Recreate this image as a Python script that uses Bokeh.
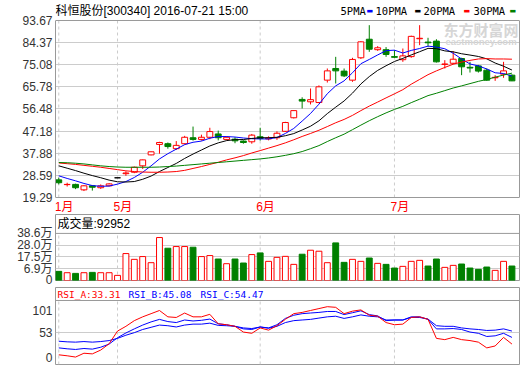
from bokeh.plotting import figure
from bokeh.layouts import column
from bokeh.models import Range1d, FixedTicker, Label, Span, ColumnDataSource, LinearAxis
from bokeh.embed import file_html
from bokeh.resources import INLINE

# ---------------- data ----------------
title_text = "科恒股份[300340] 2016-07-21 15:00"
month_labels = ["1月", "5月", "6月", "7月"]
month_starts = [0, 7, 24, 40]
price_ticks = [93.67, 84.37, 75.08, 65.78, 56.48, 47.18, 37.88, 28.59, 19.29]
vol_ticks = [6.9, 17.5, 28.0, 38.6]
vol_tick_labels = ["6.9万", "17.5万", "28.0万", "38.6万"]
rsi_ticks = [0, 53, 101]
ma_names = ["5PMA", "10PMA", "20PMA", "30PMA"]
last_volume = "92952"
rsi_names = ["RSI_A", "RSI_B", "RSI_C"]
rsi_last = ["33.31", "45.08", "54.47"]

opens = [26.7, 24.7, 24.8, 22.5, 24.2, 23.4, 24.2, 27.57, 29.3, 29.9,
         32.6, 37.2, 41.6, 41.9, 39.8, 41.9, 44.4, 43.7, 44.6, 46.0,
         43.7, 43.8, 43.0, 42.7, 44.8, 43.9, 44.4, 47.1, 52.8, 60.5,
         59.5, 59.2, 68.6, 73.5, 72.4, 68.6, 78.0, 85.8, 81.4, 81.4,
         78.5, 77.2, 78.5, 86.0, 84.6, 85.0, 75.2, 75.7, 77.7, 74.0,
         74.6, 72.8, 69.6, 71.1, 70.7]
highs = [27.6, 25.5, 25.1, 24.5, 24.3, 24.8, 25.3, 27.57, 30.3, 32.3,
         35.2, 38.6, 42.7, 42.4, 43.0, 45.2, 49.1, 45.7, 48.6, 47.4,
         45.0, 44.6, 43.3, 46.0, 48.6, 45.0, 47.1, 51.1, 56.0, 61.4,
         65.1, 66.4, 73.5, 78.4, 73.5, 78.0, 85.0, 91.7, 82.9, 82.5,
         81.2, 81.9, 87.3, 91.7, 86.4, 85.8, 77.0, 80.8, 78.0, 76.3,
         75.0, 73.5, 70.7, 76.3, 71.0]
lows = [24.8, 23.9, 22.8, 22.0, 22.2, 22.9, 24.0, 27.57, 28.4, 29.5,
        31.3, 37.0, 37.7, 39.8, 39.3, 41.6, 43.2, 43.2, 43.8, 43.3,
        43.3, 42.1, 41.9, 41.9, 43.2, 43.3, 43.5, 46.8, 52.5, 56.7,
        58.4, 58.9, 67.6, 67.2, 69.9, 67.9, 77.5, 80.5, 80.9, 78.4,
        78.0, 76.3, 78.0, 83.3, 82.6, 76.0, 73.5, 75.3, 70.7, 71.8,
        71.8, 68.3, 68.3, 69.6, 68.2]
closes = [25.5, 24.8, 23.4, 24.2, 23.6, 24.2, 25.0, 27.57, 29.6, 32.0,
          35.1, 38.5, 42.4, 40.7, 41.2, 44.6, 43.7, 44.6, 47.0, 44.4,
          44.6, 43.1, 42.4, 45.5, 44.1, 44.3, 46.3, 50.8, 55.8, 59.8,
          60.4, 65.8, 72.5, 72.5, 70.4, 77.3, 84.7, 81.6, 82.2, 79.4,
          78.2, 78.8, 87.0, 86.2, 84.3, 76.3, 75.4, 77.4, 74.2, 73.7,
          72.4, 68.6, 69.8, 72.5, 68.3]
volumes = [4.5, 3.3, 2.7, 3.3, 3.6, 3.3, 3.3, 0.9, 20.5, 15.3,
           17.8, 12.3, 34.9, 25.3, 26.8, 26.8, 26.2, 17.8, 18.7, 15.6,
           11.4, 15.6, 12.0, 19.6, 21.1, 13.5, 17.1, 18.0, 10.8, 19.9,
           23.5, 22.6, 12.3, 30.1, 12.6, 15.3, 13.5, 16.5, 11.7, 10.8,
           7.5, 9.0, 13.5, 14.4, 9.3, 15.6, 8.1, 9.9, 11.1, 7.5,
           6.3, 8.4, 5.4, 13.5, 9.3]
ma5 = [28.4, 27.3, 26.3, 25.2, 24.3, 24.0, 24.1, 24.9, 26.0, 27.7,
       29.9, 32.6, 35.5, 37.7, 39.6, 41.5, 42.5, 43.0, 44.2, 44.9,
       44.9, 44.7, 44.3, 44.0, 43.9, 43.9, 44.5, 46.2, 48.3, 51.4,
       54.6, 58.5, 62.9, 66.2, 68.3, 71.7, 75.5, 77.3, 79.2, 81.0,
       81.2, 80.0, 81.1, 81.9, 82.9, 82.5, 81.8, 79.9, 77.5, 75.4,
       74.6, 73.3, 71.7, 71.4, 70.3]
ma10 = [32.6, 31.6, 30.6, 29.5, 28.5, 27.6, 26.6, 25.9, 25.8, 26.0,
        26.95, 28.3, 30.2, 31.9, 33.6, 35.7, 37.55, 39.25, 40.95, 42.25,
        43.2, 43.6, 43.65, 44.1, 44.4, 44.4, 44.6, 45.25, 46.15, 47.65,
        49.25, 51.5, 54.55, 57.25, 59.85, 63.15, 67.0, 70.1, 72.7, 74.65,
        76.45, 77.75, 79.2, 80.55, 81.95, 81.85, 80.9, 80.5, 79.7, 79.15,
        78.55, 77.55, 75.8, 74.45, 72.85]
ma20 = [33.8, 33.5, 33.2, 32.8, 32.4, 32.0, 31.5, 31.0, 30.5, 30.2,
        30.0, 29.9, 29.9, 30.0, 30.2, 30.7, 31.5, 32.3, 33.2, 34.1,
        35.1, 35.95, 36.9, 38.0, 39.0, 40.05, 41.1, 42.25, 43.55, 44.95,
        46.2, 47.55, 49.1, 50.7, 52.1, 53.8, 55.8, 57.7, 59.4, 61.15,
        62.85, 64.6, 66.9, 68.9, 70.9, 72.5, 73.95, 75.3, 76.2, 76.9,
        77.5, 77.65, 77.5, 77.5, 77.4]
ma30 = [34.0, 33.9, 33.7, 33.4, 33.0, 32.6, 32.3, 32.1, 32.0, 32.0,
        32.0, 32.0, 32.1, 32.3, 32.5, 32.8, 33.1, 33.4, 33.7, 34.0,
        34.3, 34.6, 34.9, 35.2, 35.5, 35.9, 36.4, 37.0, 37.7, 38.6,
        39.8, 41.1, 42.8, 44.4, 45.9, 47.8, 49.7, 51.55, 53.25, 54.85,
        56.3, 57.6, 59.15, 60.6, 62.1, 63.1, 64.2, 65.3, 66.2, 67.15,
        68.1, 68.9, 69.85, 70.75, 71.55]
rsi_a = [5.8, 3.7, 1.0, 9.2, 7.8, 16.0, 29.6, 56.8, 67.0, 79.2,
         87.4, 94.2, 101.0, 87.4, 86.0, 95.5, 87.4, 87.4, 92.8, 72.4,
         70.4, 67.0, 54.7, 52.0, 63.6, 58.8, 68.3, 82.0, 94.2, 96.9,
         101.0, 105.1, 109.2, 107.8, 94.2, 99.6, 102.3, 90.8, 88.7, 75.1,
         70.4, 71.7, 86.0, 87.4, 82.0, 41.1, 38.4, 43.2, 38.4, 36.4,
         33.0, 20.7, 24.8, 43.2, 28.9]
rsi_b = [20.7, 18.7, 17.3, 19.4, 18.0, 22.1, 28.9, 42.5, 52.7, 61.5,
         69.7, 76.5, 81.9, 77.2, 75.1, 80.6, 78.5, 79.9, 82.6, 72.4,
         70.4, 67.0, 61.5, 60.2, 65.6, 63.6, 70.4, 84.0, 90.8, 94.2,
         95.6, 96.9, 98.9, 98.9, 92.2, 96.2, 100.3, 92.2, 89.4, 79.2,
         80.6, 80.6, 87.4, 87.4, 82.0, 61.5, 61.5, 62.2, 60.2, 54.7,
         52.0, 45.2, 46.6, 52.0, 43.2]
rsi_c = [35.0, 33.7, 33.0, 34.3, 33.0, 34.3, 36.4, 41.1, 47.9, 53.4,
         60.2, 64.9, 69.7, 68.3, 65.6, 69.7, 71.7, 71.7, 73.8, 69.0,
         68.3, 67.0, 63.6, 62.2, 65.6, 62.9, 67.0, 75.1, 79.2, 80.6,
         81.9, 84.7, 87.4, 88.7, 84.0, 87.4, 91.5, 88.7, 87.4, 80.6,
         80.6, 80.6, 86.0, 86.0, 82.6, 68.3, 67.0, 67.0, 63.6, 61.5,
         60.2, 58.1, 58.8, 61.5, 56.8]

# ---------------- style ----------------
RED, GREEN, BLUE, BLACK = "#ff0000", "#008000", "#0000ff", "#000000"
GRID, BORDER, TXT = "#cccccc", "#999999", "#333333"
FONT = "Liberation Sans, Noto Sans CJK SC"
MONO = "DejaVu Sans Mono"
W, LEFT, RIGHT = 520, 55, 1
BODY_W = 0.7
VOL_FLOOR = -3.7          # bottom of the volume axis (labelled "0")
RSI_FLOOR, RSI_TOP = -15.0, 150.4
RSI_SPLIT = 122.5         # header separator of the RSI panel
P_LO, P_HI = 12.57, 102.07  # main panel range incl. title row and month row

n = len(closes)
idx = list(range(n))
xr = Range1d(-0.39, 54.9)


def make_fig(height, y_range, top, bottom, outline=True):
    p = figure(width=W, height=height, x_range=xr, y_range=y_range,
               toolbar_location=None, tools="", output_backend="svg",
               min_border_left=LEFT, min_border_right=RIGHT,
               min_border_top=top, min_border_bottom=bottom,
               x_axis_location=None)
    p.outline_line_color = BORDER if outline else None
    p.background_fill_color = "white"
    p.border_fill_color = "white"
    ax = p.yaxis[0]
    ax.axis_line_color = None
    ax.major_tick_line_color = None
    ax.minor_tick_line_color = None
    ax.major_tick_out = 0
    ax.major_tick_in = 0
    ax.major_label_standoff = 3
    ax.major_label_text_font = FONT
    ax.major_label_text_font_size = "12px"
    ax.major_label_text_color = TXT
    return p


def add_text(p, x, y, text, color=BLACK, size="12px", style="normal",
             font=FONT, level="annotation", x_units="screen", align="left",
             x_offset=0):
    p.add_layout(Label(x=x, y=y, x_units=x_units, y_units="screen", text=text,
                       text_color=color, text_font_size=size, text_font=font,
                       text_font_style=style, text_baseline="middle",
                       text_align=align, level=level, x_offset=x_offset))


# ---------------- main (price) panel ----------------
H1 = 213
p1 = make_fig(H1, Range1d(P_LO, P_HI), 0, 0, outline=False)
bnd = (price_ticks[-1], price_ticks[0])
p1.yaxis.ticker = FixedTicker(ticks=price_ticks)
p1.yaxis.major_label_overrides = {t: f"{t:.2f}" for t in price_ticks}
p1.yaxis.bounds = bnd
p1.yaxis.axis_line_color = BORDER
p1.ygrid.ticker = FixedTicker(ticks=price_ticks[1:-1])
p1.ygrid.grid_line_color = GRID
p1.xgrid.grid_line_color = None
right_ax = LinearAxis(bounds=bnd, ticker=FixedTicker(ticks=[]), axis_line_color=BORDER,
                      major_tick_line_color=None, minor_tick_line_color=None,
                      major_tick_out=0, major_tick_in=0, major_label_standoff=0)
p1.add_layout(right_ax, "right")
for loc in bnd:
    p1.add_layout(Span(location=loc, dimension="width", line_color=BORDER, line_width=1))
p1.segment(x0=month_starts, y0=[bnd[0]] * len(month_starts), x1=month_starts,
           y1=[bnd[1]] * len(month_starts), line_color=GRID, line_dash="3 3",
           level="underlay")

add_text(p1, 388, H1 - 29.5, "东方财富网", color="#d6d6d6", size="15px", style="bold", level="underlay")
add_text(p1, 390, H1 - 41, "eastmoney.com", color="#d6d6d6", size="9.5px", style="bold", level="underlay")

line_cols, fill_cols, vol_line, vol_fill = [], [], [], []
for o, h, l, c in zip(opens, highs, lows, closes):
    if c > o:
        line_cols.append(RED); fill_cols.append("white")
    elif c < o:
        line_cols.append(GREEN); fill_cols.append(GREEN)
    else:
        col = BLACK if h == l else RED
        line_cols.append(col); fill_cols.append("white")
    if c >= o:
        vol_line.append(RED); vol_fill.append("white")
    else:
        vol_line.append(GREEN); vol_fill.append(GREEN)

src = ColumnDataSource(dict(
    x=idx, h=highs, l=lows,
    top=[max(o, c) for o, c in zip(opens, closes)],
    bot=[min(o, c) for o, c in zip(opens, closes)],
    lc=line_cols, fc=fill_cols))
p1.segment(x0="x", y0="h", x1="x", y1="l", line_color="lc", line_width=1, source=src)
p1.vbar(x="x", width=BODY_W, top="top", bottom="bot", fill_color="fc",
        line_color="lc", line_width=1, source=src)

for series, col in zip([ma5, ma10, ma20, ma30], [BLUE, BLACK, RED, GREEN]):
    p1.line(idx, series, line_color=col, line_width=1)

add_text(p1, 0, H1 - 10, title_text, color=BLACK, size="12px")
leg_x = [285, 320, 368, 418]
dash_x = [311, 359, 408, 454]
for name, col, lx, dx in zip(ma_names, [BLUE, BLACK, RED, GREEN], leg_x, dash_x):
    add_text(p1, lx, H1 - 10, name, color=BLACK, size="10.5px", font=MONO)
    add_text(p1, dx, H1 - 10, "▬", color=col, size="7px", font="DejaVu Sans")

for ms, ml in zip(month_starts, month_labels):
    add_text(p1, ms, H1 - 206, ml, color=RED, size="12px", x_units="data",
             align="left", x_offset=-4)

# ---------------- volume panel ----------------
FH2 = 66
p2 = make_fig(73, Range1d(VOL_FLOOR, 55.6), 1, 6)
p2.yaxis.ticker = FixedTicker(ticks=[VOL_FLOOR] + vol_ticks)
ov = {VOL_FLOOR: "0"}
ov.update(dict(zip(vol_ticks, vol_tick_labels)))
p2.yaxis.major_label_overrides = ov
p2.ygrid.ticker = FixedTicker(ticks=vol_ticks[:-1])
p2.ygrid.grid_line_color = GRID
p2.xgrid.grid_line_color = None
p2.segment(x0=month_starts, y0=[VOL_FLOOR] * len(month_starts), x1=month_starts,
           y1=[vol_ticks[-1]] * len(month_starts), line_color=GRID, line_dash="3 3",
           level="underlay")
p2.add_layout(Span(location=vol_ticks[-1], dimension="width", line_color=BORDER, line_width=1))
vsrc = ColumnDataSource(dict(x=idx, v=volumes, lc=vol_line, fc=vol_fill))
p2.vbar(x="x", width=BODY_W, top="v", bottom=VOL_FLOOR, fill_color="fc",
        line_color="lc", line_width=1, source=vsrc)
add_text(p2, 2, FH2 - 9, "成交量:" + last_volume, color=BLACK, size="12px")

# ---------------- RSI panel ----------------
FH3 = 77
p3 = make_fig(79, Range1d(RSI_FLOOR, RSI_TOP), 1, 1)
p3.yaxis.ticker = FixedTicker(ticks=rsi_ticks)
p3.ygrid.ticker = FixedTicker(ticks=[rsi_ticks[1]])
p3.ygrid.grid_line_color = GRID
p3.xgrid.grid_line_color = None
p3.segment(x0=month_starts, y0=[RSI_FLOOR] * len(month_starts), x1=month_starts,
           y1=[RSI_SPLIT] * len(month_starts), line_color=GRID, line_dash="3 3",
           level="underlay")
p3.add_layout(Span(location=RSI_SPLIT, dimension="width", line_color=BORDER, line_width=1))
for series, col in zip([rsi_c, rsi_b, rsi_a], [BLUE, BLUE, RED]):
    p3.line(idx, series, line_color=col, line_width=1)
for name, val, col, hx in zip(rsi_names, rsi_last, [RED, BLUE, BLUE], [2, 73, 145]):
    add_text(p3, hx, FH3 - 7, f"{name}:{val}", color=col, size="9.5px", font=MONO)

layout = column(p1, p2, p3, spacing=0)
open("out.html", "w").write(file_html(layout, INLINE))
